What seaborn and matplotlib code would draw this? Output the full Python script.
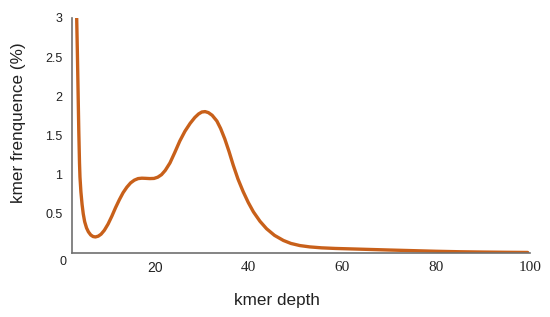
import matplotlib
matplotlib.use("Agg")
import matplotlib.pyplot as plt
import seaborn as sns
import pandas as pd

depth = [3.3, 3.45, 3.6, 3.75, 3.9, 4.0, 4.2, 4.45, 4.7, 5.0, 5.4, 5.8, 6.3, 6.8, 7.3, 7.9,
         8.5, 9.2, 10.0, 10.8, 11.6, 12.4, 13.2, 14.0, 14.8, 15.6, 16.4, 17.2, 18.0,
         18.9, 19.8, 20.6, 21.4, 22.2, 23.2, 24.2, 25.3, 26.4, 27.5, 28.5, 29.3, 30.0,
         30.7, 31.4, 32.2, 33.2, 34.0, 34.9, 35.8, 36.7, 37.7, 38.8, 39.9, 41.0, 42.4,
         43.8, 45.5, 47.4, 49.0, 50.9, 53.0, 55.5, 58.5, 62.0, 66.0, 70.0, 75.0, 80.0,
         85.0, 90.0, 95.0, 99.5]
freq = [3.0, 2.55, 2.05, 1.55, 1.15, 0.97, 0.78, 0.62, 0.50, 0.40, 0.32, 0.27, 0.23, 0.21, 0.205,
        0.215, 0.24, 0.29, 0.37, 0.47, 0.58, 0.68, 0.77, 0.84, 0.895, 0.93, 0.95, 0.955,
        0.953, 0.95, 0.952, 0.968, 1.0, 1.055, 1.15, 1.28, 1.43, 1.555, 1.655, 1.73, 1.775,
        1.80, 1.805, 1.792, 1.758, 1.685, 1.59, 1.455, 1.295, 1.12, 0.945, 0.785, 0.645, 0.525, 0.405,
        0.31, 0.225, 0.16, 0.122, 0.095, 0.078, 0.066, 0.058, 0.052, 0.045, 0.038, 0.03, 0.022,
        0.016, 0.012, 0.009, 0.007]
yticks = [0.5, 1, 1.5, 2, 2.5, 3]
ytick_labels = ["0.5", "1", "1.5", "2", "2.5", "3"]
xticks = [20, 40, 60, 80, 100]
xtick_labels = ["20", "40", "60", "80", "100"]

df = pd.DataFrame({"depth": depth, "freq": freq})

sns.set_theme(style="white")
plt.rcParams['font.family'] = ['Liberation Sans', 'DejaVu Sans']

fig = plt.figure(figsize=(5.5, 3.17), dpi=100)
ax = fig.add_axes([72/550, (317-253)/317, (530-72)/550, (253-18)/317])
sns.lineplot(data=df, x="depth", y="freq", ax=ax, color="#c8601a", linewidth=2.4)

ax.set_xlim(2.3, 100)
ax.set_ylim(0, 3)
for s in ["top", "right"]:
    ax.spines[s].set_visible(False)
for s in ["left", "bottom"]:
    ax.spines[s].set_color("#707070")
    ax.spines[s].set_linewidth(1.2)

ax.set_yticks(yticks)
ax.set_yticklabels(ytick_labels, fontsize=9, color="#222222")
ax.set_xticks(xticks)
ax.set_xticklabels(xtick_labels, fontsize=10, color="#222222")
ax.tick_params(axis="both", length=0)
ax.tick_params(axis="y", pad=7)
ax.tick_params(axis="x", pad=6)

ax.annotate("0", xy=(0, 0), xycoords="axes fraction", xytext=(-6.3, -6.8),
            textcoords="offset points", ha="center", va="center", fontsize=9, color="#222222")

ax.set_xlabel("kmer depth", fontsize=12.3, color="#222222")
ax.set_ylabel("kmer frenquence (%)", fontsize=12.3, color="#222222")
ax.xaxis.set_label_coords((277 - 72) / 458, (317 - 293 - 64) / 235)
ax.yaxis.set_label_coords((26 - 72) / 458, (317 - 123 - 64) / 235)

fig.canvas.draw()
for lab in ax.get_xticklabels():
    if lab.get_text() != "20":
        lab.set_fontfamily("Liberation Serif")
        lab.set_fontsize(11)

fig.savefig("out.png", dpi=100)
